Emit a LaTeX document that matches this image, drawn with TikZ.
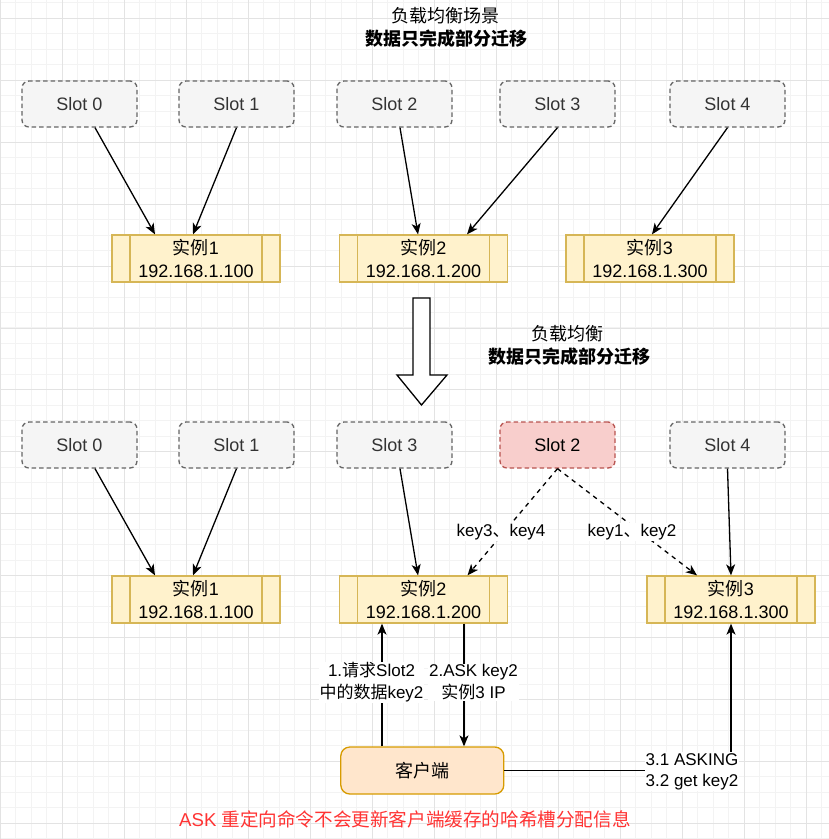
\documentclass[tikz,border=0pt]{standalone}
\usepackage{fontspec}
\setmainfont{Liberation Sans}
\newfontfamily\cjk{Noto Sans CJK SC}
\usetikzlibrary{arrows.meta,calc}
\newcommand\zh[1]{{\cjk #1}}
\definecolor{slotfill}{HTML}{F5F5F5}
\definecolor{slotdraw}{HTML}{666666}
\definecolor{slottext}{HTML}{333333}
\definecolor{redfill}{HTML}{F8CECC}
\definecolor{reddraw}{HTML}{B85450}
\definecolor{instfill}{HTML}{FFF2CC}
\definecolor{instdraw}{HTML}{D6B656}
\definecolor{clifill}{HTML}{FFE6CC}
\definecolor{clidraw}{HTML}{D79B00}
\definecolor{notered}{HTML}{FF3333}
\definecolor{gridminor}{HTML}{F3F3F3}
\definecolor{gridmajor}{HTML}{E3E3E3}
\tikzset{
  mainfont/.style={font=\fontsize{18}{23}\selectfont},
  lblfont/.style={font=\fontsize{17}{21.5}\selectfont},
  slotbox/.style={mainfont, draw=slotdraw, fill=slotfill, text=slottext,
    line width=1.3pt, dash pattern=on 4.5pt off 3pt, rounded corners=7pt,
    minimum width=115pt, minimum height=46pt, inner sep=0pt},
  slotred/.style={slotbox, draw=reddraw, fill=redfill, text=black},
  instbox/.style={mainfont, draw=instdraw, fill=instfill, line width=1.3pt,
    minimum width=168pt, minimum height=47pt, inner sep=0pt, align=center,
    path picture={\draw[instdraw,line width=1.3pt]
      ([xshift=18pt]path picture bounding box.north west) -- ([xshift=18pt]path picture bounding box.south west)
      ([xshift=-18pt]path picture bounding box.north east) -- ([xshift=-18pt]path picture bounding box.south east);}},
  clibox/.style={mainfont, draw=clidraw, fill=clifill, line width=1.3pt,
    rounded corners=9pt, minimum width=163pt, minimum height=47pt, inner sep=0pt},
  arr/.style={line width=1.3pt, -{Stealth[length=11pt,width=9pt,inset=3pt]}},
  darr/.style={arr, dash pattern=on 4.5pt off 4.5pt},
  edgelbl/.style={lblfont, fill=white, inner sep=1pt, align=center},
  titlefont/.style={mainfont, inner sep=0pt}
}
\begin{document}
\begin{tikzpicture}[x=1pt,y=-1pt]
\useasboundingbox (0,0) rectangle (829,839);
\fill[white] (0,0) rectangle (829,839);
% grid
\foreach \i in {0,...,53}{\draw[gridminor,line width=0.8pt] (0.3+15.5*\i,0) -- (0.3+15.5*\i,839);}
\foreach \i in {0,...,54}{\draw[gridminor,line width=0.8pt] (0,2.8+15.48*\i) -- (829,2.8+15.48*\i);}
\foreach \i in {0,...,13}{\draw[gridmajor,line width=0.8pt] (0.3+62*\i,0) -- (0.3+62*\i,839);}
\foreach \i in {0,...,13}{\draw[gridmajor,line width=0.8pt] (0,18.3+61.92*\i) -- (829,18.3+61.92*\i);}

% titles
\node[titlefont] (t1) at (445,16) {\zh{负载均衡场景}};
\node[titlefont] (t2) at (446,39) {\bfseries\zh{数据只完成部分迁移}};
\node[titlefont] (t3) at (567.5,334) {\zh{负载均衡}};
\node[titlefont] (t4) at (569,357) {\bfseries\zh{数据只完成部分迁移}};

% top row
\node[slotbox] (s0) at (79.5,104) {Slot 0};
\node[slotbox] (s1) at (236.5,104) {Slot 1};
\node[slotbox] (s2) at (394.5,104) {Slot 2};
\node[slotbox] (s3) at (557.5,104) {Slot 3};
\node[slotbox] (s4) at (727.5,104) {Slot 4};
\node[instbox] (i1) at (196,258.5) {\zh{实例}1\\192.168.1.100};
\node[instbox] (i2) at (423.5,258.5) {\zh{实例}2\\192.168.1.200};
\node[instbox] (i3) at (650,258.5) {\zh{实例}3\\192.168.1.300};
\draw[arr] ([xshift=15.5pt]s0.south) -- ([xshift=-41pt]i1.north);
\draw[arr] (s1.south) -- ([xshift=-3pt]i1.north);
\draw[arr] ([xshift=5.5pt]s2.south) -- ([xshift=-5.5pt]i2.north);
\draw[arr] (s3.south) -- ([xshift=43.5pt]i2.north);
\draw[arr] (s4.south) -- ([xshift=2pt]i3.north);

% big hollow arrow
\draw[line width=1.3pt, fill=white, line join=miter] (413,298) -- (430,298) -- (430,375) -- (447,375) -- (421.5,405) -- (397,375) -- (413,375) -- cycle;

% bottom row
\node[slotbox] (b0) at (79.5,445) {Slot 0};
\node[slotbox] (b1) at (236.5,445) {Slot 1};
\node[slotbox] (b3) at (394.5,445) {Slot 3};
\node[slotred] (b2) at (557.5,445) {Slot 2};
\node[slotbox] (b4) at (727.5,445) {Slot 4};
\node[instbox] (j1) at (196,599.5) {\zh{实例}1\\192.168.1.100};
\node[instbox] (j2) at (423.5,599.5) {\zh{实例}2\\192.168.1.200};
\node[instbox] (j3) at (731,599.5) {\zh{实例}3\\192.168.1.300};
\draw[arr] ([xshift=15.5pt]b0.south) -- ([xshift=-41pt]j1.north);
\draw[arr] (b1.south) -- ([xshift=-3pt]j1.north);
\draw[arr] ([xshift=5.5pt]b3.south) -- ([xshift=-5.5pt]j2.north);
\draw[darr] (b2.south) -- ([xshift=44pt]j2.north);
\draw[darr] (b2.south) -- ([xshift=-34pt]j3.north);
\draw[arr] (b4.south) -- (j3.north);
\node[edgelbl] (k34) at (501,532) {key3\zh{、}key4};
\node[edgelbl] (k12) at (632,532) {key1\zh{、}key2};

% client
\node[clibox] (c) at (422.3,770.5) {\zh{客户端}};
\coordinate (u) at ([xshift=-41.5pt]j2.south);
\coordinate (d) at ([xshift=40.5pt]j2.south);
\draw[arr] (c.north -| u) -- (u);
\draw[arr] (d) -- (c.north -| d);
\draw[arr] (c.east) -| (j3.south);
\node[edgelbl] (l1) at (371.5,682.2) {1.\zh{请求}Slot2\\\zh{中的数据}key2};
\node[edgelbl] (l2) at (473.5,682.2) {2.ASK key2\\\zh{实例}3 IP};
\node[edgelbl, align=left] (l3) at (692,771.7) {3.1 ASKING\\3.2 get key2};

% note
\node[font=\fontsize{18.6}{23}\selectfont, text=notered, inner sep=0pt] (note) at (405,819) {ASK \zh{重定向命令不会更新客户端缓存的哈希槽分配信息}};
\end{tikzpicture}
\end{document}
